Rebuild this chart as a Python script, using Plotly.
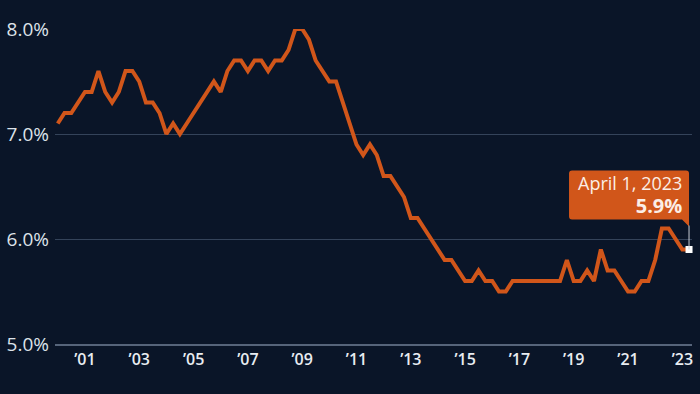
import pandas as pd
import plotly.graph_objects as go

# Quarterly values, 2000 Q1 .. 2023 Q2 (percent)
values = [
    7.1, 7.2, 7.2, 7.3,   # 2000
    7.4, 7.4, 7.6, 7.4,   # 2001
    7.3, 7.4, 7.6, 7.6,   # 2002
    7.5, 7.3, 7.3, 7.2,   # 2003
    7.0, 7.1, 7.0, 7.1,   # 2004
    7.2, 7.3, 7.4, 7.5,   # 2005
    7.4, 7.6, 7.7, 7.7,   # 2006
    7.6, 7.7, 7.7, 7.6,   # 2007
    7.7, 7.7, 7.8, 8.0,   # 2008
    8.0, 7.9, 7.7, 7.6,   # 2009
    7.5, 7.5, 7.3, 7.1,   # 2010
    6.9, 6.8, 6.9, 6.8,   # 2011
    6.6, 6.6, 6.5, 6.4,   # 2012
    6.2, 6.2, 6.1, 6.0,   # 2013
    5.9, 5.8, 5.8, 5.7,   # 2014
    5.6, 5.6, 5.7, 5.6,   # 2015
    5.6, 5.5, 5.5, 5.6,   # 2016
    5.6, 5.6, 5.6, 5.6,   # 2017
    5.6, 5.6, 5.6, 5.8,   # 2018
    5.6, 5.6, 5.7, 5.6,   # 2019
    5.9, 5.7, 5.7, 5.6,   # 2020
    5.5, 5.5, 5.6, 5.6,   # 2021
    5.8, 6.1, 6.1, 6.0,   # 2022
    5.9, 5.9,             # 2023
]
start_date = "2000-01-01"
dates = pd.date_range(start=start_date, periods=len(values), freq="QS")

tick_years = [2001, 2003, 2005, 2007, 2009, 2011, 2013, 2015, 2017, 2019, 2021, 2023]
tick_labels = ["’01", "’03", "’05", "’07", "’09", "’11", "’13", "’15", "’17", "’19", "’21", "’23"]
y_ticks = [5, 6, 7, 8]
y_tick_labels = ["5.0%", "6.0%", "7.0%", "8.0%"]

annotation_date = "April 1, 2023"
annotation_value = f"{values[-1]:.1f}%"

BG = "#0a1528"
ORANGE = "#d1561a"
GRID = "#34435a"
FONT = "Open Sans"

fig = go.Figure()
fig.add_trace(go.Scatter(
    x=dates, y=values, mode="lines",
    line=dict(color=ORANGE, width=4, shape="linear"),
    cliponaxis=False, hoverinfo="skip", showlegend=False,
))

# callout box (rounded, with tail) anchored at the last data point, offsets in pixels
box_path = (
    "M -117,79 L -3,79 Q 0,79 0,76 L 0,23 L -7,30 L -117,30 "
    "Q -120,30 -120,33 L -120,76 Q -120,79 -117,79 Z"
)
fig.add_shape(
    type="path", path=box_path,
    xref="x", yref="y", xsizemode="pixel", ysizemode="pixel",
    xanchor=dates[-1], yanchor=values[-1],
    fillcolor=ORANGE, line=dict(width=0), layer="above",
)
fig.add_shape(
    type="line", x0=0, x1=0, y0=0, y1=24,
    xref="x", yref="y", xsizemode="pixel", ysizemode="pixel",
    xanchor=dates[-1], yanchor=values[-1],
    line=dict(color="#c9ced6", width=1), layer="above",
)

fig.add_trace(go.Scatter(
    x=[dates[-1]], y=[values[-1]], mode="markers",
    marker=dict(symbol="square", size=7, color="white"),
    cliponaxis=False, hoverinfo="skip", showlegend=False,
))

fig.add_annotation(
    x=dates[-1], y=values[-1], xref="x", yref="y",
    text=f"{annotation_date}<br><span style='font-size:20px'><b>{annotation_value}</b></span>",
    showarrow=False, xanchor="right", yanchor="middle",
    xshift=-6, yshift=55,
    align="right", borderpad=0,
    font=dict(family=FONT, size=18, color="#fbeee6"),
)

x_start = pd.Timestamp("1999-11-25")
x_end = pd.Timestamp("2023-05-11")

fig.update_layout(
    width=700, height=394,
    paper_bgcolor=BG, plot_bgcolor=BG,
    margin=dict(l=53, r=7, t=29, b=50),
    font=dict(family=FONT, color="#e2e6ec"),
    xaxis=dict(
        range=[x_start, x_end],
        tickvals=[pd.Timestamp(f"{y}-01-01") for y in tick_years],
        ticktext=tick_labels,
        tickfont=dict(family=FONT, size=16, color="#e8ecf1", weight=600),
        showgrid=False, zeroline=False,
        showline=True, linecolor="#56647a", linewidth=2,
        ticks="", ticklabelstandoff=0,
    ),
    yaxis=dict(
        range=[5, 8],
        tickvals=y_ticks,
        ticktext=y_tick_labels,
        tickfont=dict(family=FONT, size=19, color="#dde2e9"),
        showgrid=True, gridcolor=GRID, gridwidth=1,
        zeroline=False, ticks="", ticklabelstandoff=5,
    ),
)

fig.write_html(
    "out.html",
    config={"displayModeBar": False},
    post_script="document.body.style.margin='0';document.body.style.background='#0a1528';",
)
